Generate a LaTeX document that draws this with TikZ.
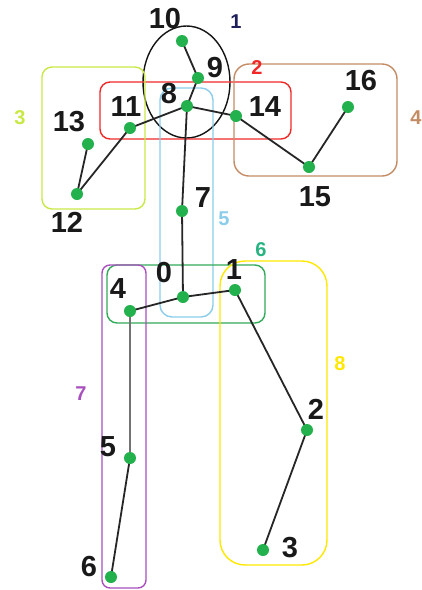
\documentclass[tikz,border=0pt]{standalone}
\usepackage{fontspec}
\setmainfont{Liberation Sans}
\definecolor{jointgreen}{RGB}{34,177,76}
\definecolor{headblack}{RGB}{20,20,20}
\definecolor{torsored}{RGB}{240,40,40}
\definecolor{leftarm}{RGB}{200,232,70}
\definecolor{rightarm}{RGB}{196,140,100}
\definecolor{spineblue}{RGB}{140,205,235}
\definecolor{hipgreen}{RGB}{50,170,90}
\definecolor{legpurple}{RGB}{170,80,190}
\definecolor{legyellow}{RGB}{255,232,0}
\definecolor{navylabel}{RGB}{30,30,90}
\definecolor{hiptext}{RGB}{40,180,130}
\begin{document}
\begin{tikzpicture}[x=1pt,y=-1pt,
  joint/.style={circle,fill=jointgreen,inner sep=0pt,minimum size=12pt},
  bone/.style={line width=1.8pt,draw=black!85},
  num/.style={font=\bfseries\fontsize{29}{31}\selectfont,inner sep=0pt,text=black!90},
  grp/.style={font=\bfseries\fontsize{20}{22}\selectfont,inner sep=0pt},
  part/.style={line width=1.4pt}]
\useasboundingbox[fill=white] (0,0) rectangle (422,590);

% body-part regions
\draw[part,headblack] (186.5,82) ellipse[x radius=43.5,y radius=56];
\draw[part,torsored,rounded corners=10pt] (100,82) rectangle (291,139);
\draw[part,leftarm,rounded corners=10pt] (42,67) rectangle (145,209);
\draw[part,rightarm,rounded corners=15pt] (234,64) rectangle (397,176);
\draw[part,spineblue,rounded corners=12pt] (160,88) rectangle (213,317);
\draw[part,hipgreen,rounded corners=10pt] (107,265) rectangle (265,323);
\draw[part,legpurple,rounded corners=8pt] (102,265) rectangle (146,588);
\draw[part,legyellow,rounded corners=25pt] (220,261) rectangle (327,565);

% joints
\coordinate (j0) at (183,297);
\coordinate (j1) at (235,290);
\coordinate (j2) at (307,430);
\coordinate (j3) at (263,550);
\coordinate (j4) at (130,311);
\coordinate (j5) at (130,458);
\coordinate (j6) at (111,577);
\coordinate (j7) at (182,211);
\coordinate (j8) at (187,106);
\coordinate (j9) at (198,78);
\coordinate (j10) at (182,41);
\coordinate (j11) at (130,128);
\coordinate (j12) at (77,194);
\coordinate (j13) at (88,144);
\coordinate (j14) at (236,116);
\coordinate (j15) at (309,167);
\coordinate (j16) at (348,107);

% skeleton
\draw[bone] (j10) -- (j9) -- (j8) -- (j7) -- (j0);
\draw[bone] (j8) -- (j11) -- (j12) -- (j13);
\draw[bone] (j8) -- (j14) -- (j15) -- (j16);
\draw[bone] (j4) -- (j0) -- (j1) -- (j2) -- (j3);
\draw[bone,draw=black!55,line width=2.2pt] (j4) -- (j5);
\draw[bone] (j5) -- (j6);

\foreach \j in {0,...,16} \node[joint] (n\j) at (j\j) {};

% joint numbers
\node[num] (t10) at (165,19) {10};
\node[num] (t9) at (215,68) {9};
\node[num] (t8) at (169,94) {8};
\node[num] (t11) at (126,107) {11};
\node[num] (t14) at (265,107) {14};
\node[num] (t13) at (69,122) {13};
\node[num] (t12) at (67,222) {12};
\node[num] (t16) at (361,81) {16};
\node[num] (t15) at (315,197) {15};
\node[num] (t7) at (203,198) {7};
\node[num] (t0) at (164,273) {0};
\node[num] (t1) at (234,270) {1};
\node[num] (t4) at (118,289) {4};
\node[num] (t5) at (108,447) {5};
\node[num] (t6) at (89,567) {6};
\node[num] (t2) at (316,409) {2};
\node[num] (t3) at (290,548) {3};

% region numbers
\node[grp,text=navylabel] (g1) at (236,22) {1};
\node[grp,text=torsored] (g2) at (257,68) {2};
\node[grp,text=leftarm] (g3) at (20,118) {3};
\node[grp,text=rightarm] (g4) at (416,118) {4};
\node[grp,text=spineblue] (g5) at (224,219) {5};
\node[grp,text=hiptext] (g6) at (261,250) {6};
\node[grp,text=legpurple] (g7) at (81,394) {7};
\node[grp,text=legyellow] (g8) at (340,364) {8};
\end{tikzpicture}
\end{document}
